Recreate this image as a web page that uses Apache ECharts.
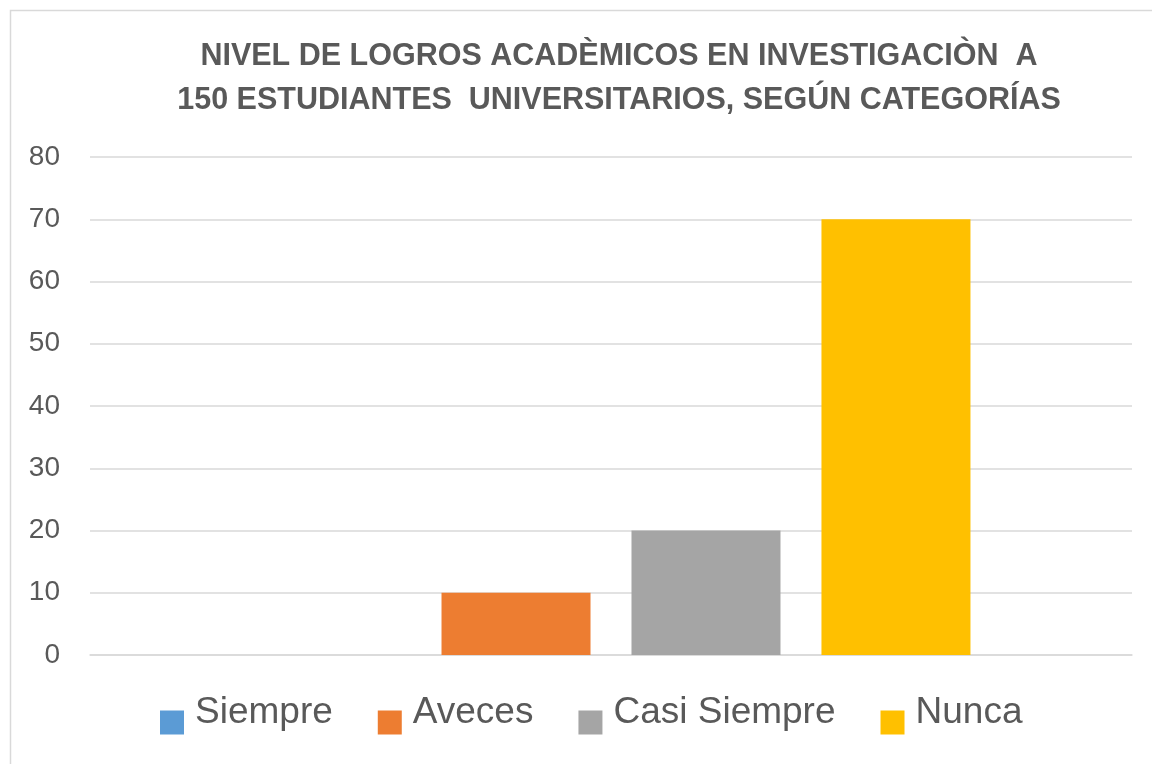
<!DOCTYPE html>
<html>
<head>
<meta charset="utf-8">
<script src="https://cdn.jsdelivr.net/npm/echarts@6/dist/echarts.min.js"></script>
<style>
  html, body { margin: 0; padding: 0; background: #fff; }
  #chart { width: 1152px; height: 764px; }
</style>
</head>
<body>
<div id="chart"></div>
<script>
// Chart data
const categories = [''];
const seriesNames = ['Siempre', 'Aveces', 'Casi Siempre', 'Nunca'];
const seriesValues = [0, 10, 20, 70];
const seriesColors = ['#5B9BD5', '#ED7D31', '#A5A5A5', '#FFC000'];
const titleText = 'NIVEL DE LOGROS ACADÈMICOS EN INVESTIGACIÒN  A\n150 ESTUDIANTES  UNIVERSITARIOS, SEGÚN CATEGORÍAS';

const chart = echarts.init(document.getElementById('chart'));

// One bar per series, all in the same (unlabelled) category
const series = seriesNames.map((name, i) => ({
  name: name,
  type: 'bar',
  data: [seriesValues[i]],
  barWidth: 149,
  barGap: '27.5%',
  itemStyle: { color: seriesColors[i] },
}));

const option = {
  backgroundColor: '#fff',
  animation: false,
  textStyle: { fontFamily: 'Liberation Sans', color: '#595959' },
  graphic: [
    {
      type: 'rect',
      shape: { x: 10.5, y: 10.5, width: 1200, height: 800 },
      style: { fill: 'none', stroke: '#d9d9d9', lineWidth: 1.5 },
      silent: true,
    },
  ],
  title: {
    text: titleText,
    left: 614,
    top: 30,
    textAlign: 'center',
    textStyle: {
      fontFamily: 'Liberation Sans',
      fontWeight: 'bold',
      fontSize: 30.5,
      lineHeight: 44,
      color: '#595959',
    },
  },
  legend: {
    data: seriesNames,
    left: 160,
    top: 694,
    padding: 0,
    icon: 'rect',
    itemWidth: 24,
    itemHeight: 24,
    itemGap: 45,
    formatter: '{a|{name}}',
    textStyle: {
      fontFamily: 'Liberation Sans',
      fontSize: 37,
      color: '#595959',
      rich: {
        a: {
          fontFamily: 'Liberation Sans',
          fontSize: 37,
          color: '#595959',
          padding: [0, 0, 20, 6],
        },
      },
    },
  },
  grid: {
    left: 90,
    right: 20,
    top: 157,
    bottom: 109,
    containLabel: false,
  },
  xAxis: {
    type: 'category',
    data: categories,
    axisLine: { lineStyle: { color: '#d9d9d9', width: 1.5 } },
    axisTick: { show: false },
    axisLabel: { show: false },
  },
  yAxis: {
    type: 'value',
    min: 0,
    max: 80,
    interval: 10,
    axisLine: { show: false },
    axisTick: { show: false },
    axisLabel: {
      margin: 30,
      fontFamily: 'Liberation Sans',
      fontSize: 28,
      color: '#595959',
    },
    splitLine: { lineStyle: { color: '#d9d9d9', width: 1.5 } },
  },
  series: series,
};

chart.setOption(option);
</script>
</body>
</html>
